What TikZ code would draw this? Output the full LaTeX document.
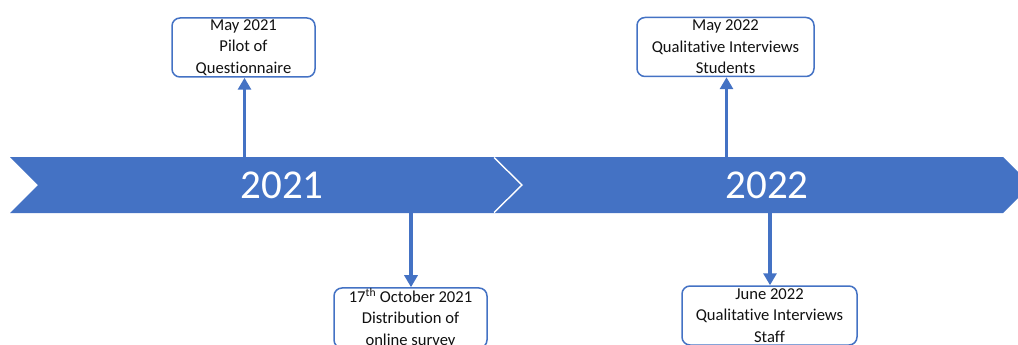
\documentclass[tikz,border=0pt]{standalone}
\usepackage{fontspec}
\setmainfont{Carlito}[Ligatures=NoCommon]
\usetikzlibrary{arrows.meta,positioning,calc}
\definecolor{tlblue}{HTML}{4472C4}
\definecolor{tlink}{HTML}{111111}
\tikzset{
  evt/.style={draw=tlblue, line width=1.5pt, rounded corners=8pt, fill=white, align=center, inner sep=0pt,
    font=\fontsize{16.6}{21.5}\selectfont, text=tlink, minimum height=59pt},
  chev/.style={fill=tlblue},
  chevsep/.style={draw=white, line width=1.4pt},
  yr/.style={font=\fontsize{41}{45}\selectfont, text=white, inner sep=0pt},
  arr/.style={-{Triangle[length=12pt, width=13pt]}, line width=3.5pt, color=tlblue},
}
\begin{document}
\begin{tikzpicture}[x=1pt, y=-1pt]
    \useasboundingbox (0,0) rectangle (1018,345);
    \clip (0,0) rectangle (1018,345);
    \path[chev] (10,157) -- (494,157) -- (522,185) -- (494,213) -- (10,213) -- (38,185) -- cycle;
    \path[chev] (494,157) -- (1003,157) -- (1031,185) -- (1003,213) -- (494,213) -- (522,185) -- cycle;
    \draw[chevsep] (494,157.5) -- (522,185) -- (494,212.5);
    \node[yr] (y1) at (282,185) {2021};
    \node[yr] (y2) at (767,185) {2022};
    \node[evt, minimum width=143pt] (e1) at (243.5,47.5) {May 2021\\Pilot of\\Questionnaire};
    \node[evt, minimum width=177pt] (e2) at (725.5,47) {May 2022\\Qualitative Interviews\\Students};
    \node[evt, minimum width=153pt] (e3) at (410.5,318) {17\textsuperscript{th} October 2021\\Distribution of\\online survey};
    \node[evt, minimum width=175pt] (e4) at (769.5,315.5) {June 2022\\Qualitative Interviews\\Staff};
    \coordinate (t1) at (244.5,157);
    \coordinate (t2) at (726.5,157);
    \coordinate (b1) at (411,213);
    \coordinate (b2) at (770,213);
    \draw[arr] (t1) -- (t1 |- e1.south);
    \draw[arr] (t2) -- (t2 |- e2.south);
    \draw[arr] (b1) -- (b1 |- e3.north);
    \draw[arr] (b2) -- (b2 |- e4.north);
\end{tikzpicture}
\end{document}
